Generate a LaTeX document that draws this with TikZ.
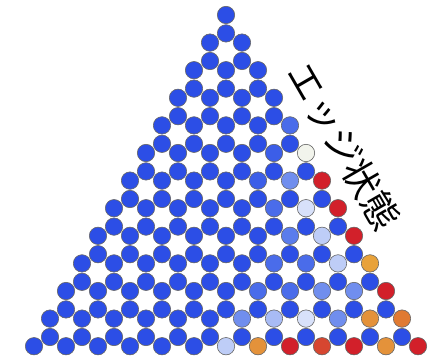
\documentclass[tikz,border=0pt]{standalone}
\usepackage{fontspec}
\newfontfamily\jpfont{Noto Sans CJK JP}
\definecolor{B0}{RGB}{44,78,230}
\definecolor{B1}{RGB}{60,94,232}
\definecolor{B2}{RGB}{74,108,234}
\definecolor{B2b}{RGB}{90,124,236}
\definecolor{B3}{RGB}{112,142,238}
\definecolor{B4b}{RGB}{168,187,245}
\definecolor{B4}{RGB}{190,205,247}
\definecolor{B5}{RGB}{216,225,250}
\definecolor{W0}{RGB}{242,244,236}
\definecolor{R0}{RGB}{210,32,42}
\definecolor{RO}{RGB}{214,70,48}
\definecolor{O0}{RGB}{228,146,58}
\definecolor{O1}{RGB}{232,162,58}
\definecolor{O2}{RGB}{224,122,50}
\newcommand\setcol[3]{\expandafter\def\csname cc-#1-#2\endcsname{#3}}
\setcol{8}{4}{B2}
\setcol{10}{4}{B1}\setcol{10}{5}{W0}
\setcol{12}{4}{B1}\setcol{12}{5}{B3}\setcol{12}{6}{R0}
\setcol{14}{5}{B2}\setcol{14}{6}{B5}\setcol{14}{7}{R0}
\setcol{16}{6}{B2b}\setcol{16}{7}{B4}\setcol{16}{8}{R0}
\setcol{18}{6}{B2}\setcol{18}{7}{B2}\setcol{18}{8}{B4}\setcol{18}{9}{O1}
\setcol{20}{6}{B2}\setcol{20}{7}{B2}\setcol{20}{8}{B3}\setcol{20}{9}{B3}\setcol{20}{10}{R0}
\setcol{22}{6}{B3}\setcol{22}{7}{B4b}\setcol{22}{8}{B5}\setcol{22}{9}{B3}\setcol{22}{10}{O0}\setcol{22}{11}{O2}
\setcol{24}{6}{B4}\setcol{24}{7}{O0}\setcol{24}{8}{R0}\setcol{24}{9}{RO}\setcol{24}{10}{R0}\setcol{24}{11}{O0}\setcol{24}{12}{R0}
\tikzset{site/.style={circle, minimum size=17.4pt, inner sep=0pt, draw=black!60, line width=0.6pt}}
\begin{document}
\begin{tikzpicture}
\useasboundingbox (0,0) rectangle (441pt,-358pt);
\foreach \r in {0,...,24} {
  \pgfmathtruncatemacro\m{floor(\r/2)}
  \pgfmathsetmacro\yy{15+18.4*mod(\r,2)+27.6*\m}
  \foreach \j in {0,...,\m} {
    \pgfmathsetmacro\xx{226-16*\m+32*\j}
    \ifcsname cc-\r-\j\endcsname
      \edef\col{\csname cc-\r-\j\endcsname}
    \else
      \def\col{B0}
    \fi
    \node[site, fill=\col] (n-\r-\j) at (\xx pt, -\yy pt) {};
  }
}
\node[rotate=-60, font=\jpfont\fontsize{37}{37}\selectfont] (lbl) at (344pt,-146pt) {エッジ状態};
\end{tikzpicture}
\end{document}
